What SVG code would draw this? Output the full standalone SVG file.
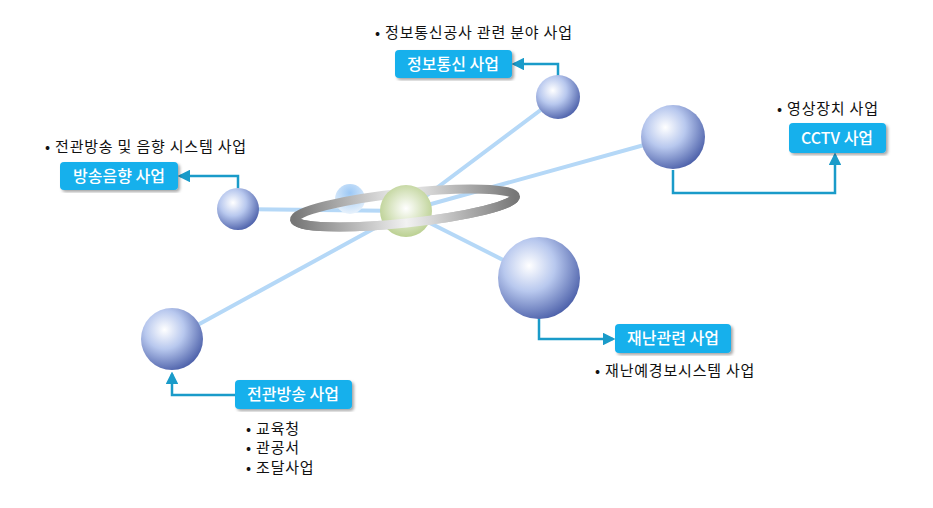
<svg xmlns="http://www.w3.org/2000/svg" width="933" height="508" viewBox="0 0 933 508">
<defs>
<radialGradient id="sph" cx="0.38" cy="0.35" r="0.7"><stop offset="0" stop-color="#ffffff"/><stop offset="0.45" stop-color="#b8c8ee"/><stop offset="1" stop-color="#4a5ea8"/></radialGradient>
<radialGradient id="grn" cx="0.5" cy="0.45" r="0.6"><stop offset="0" stop-color="#ffffff"/><stop offset="1" stop-color="#b5cc88"/></radialGradient>
<radialGradient id="sb" cx="0.5" cy="0.3" r="0.7"><stop offset="0" stop-color="#9cc8f5"/><stop offset="1" stop-color="#e8f2fc"/></radialGradient>
<linearGradient id="ring" x1="0" x2="1"><stop offset="0" stop-color="#777"/><stop offset="0.5" stop-color="#f2f2f2"/><stop offset="1" stop-color="#777"/></linearGradient>
<marker id="ar" viewBox="0 0 10 10" refX="8" refY="5" markerWidth="5" markerHeight="5" orient="auto"><path d="M0,0L10,5L0,10z" fill="#1a9bc9"/></marker>
<filter id="sh"><feDropShadow dx="2" dy="2" stdDeviation="1.5" flood-opacity="0.35"/></filter>
</defs>
<style>
.box{fill:#14b0ec;filter:url(#sh)}
.bt{font-family:"Noto Sans CJK KR","Liberation Sans",sans-serif;font-size:16px;font-weight:500;fill:#fff;text-anchor:middle}
.t{font-family:"Noto Sans CJK KR","Liberation Sans",sans-serif;font-size:15px;letter-spacing:0.8px;fill:#111}
.ln{stroke:#b5d8f7;stroke-width:4;fill:none}
.cn{stroke:#1a9bc9;stroke-width:2.5;fill:none;marker-end:url(#ar)}
.rg{fill:none;stroke:url(#ring);stroke-width:9}
</style>
<rect width="933" height="508" fill="#fff"/>
<g id="lines">
<path class="ln" d="M406,211L558,97M406,211L673,137M406,211L238,209M406,211L539,278M406,211L172,339"/>
</g>
<g id="connectors">
<path class="cn" d="M558,76V64H514"/>
<path class="cn" d="M238,188V176H180"/>
<path class="cn" d="M673,170V193H835V155"/>
<path class="cn" d="M539,318V339H613"/>
<path class="cn" d="M235,395H172V374"/>
</g>
<g id="center">
<circle cx="350" cy="199" r="15" fill="url(#sb)"/>
<g transform="rotate(-6 405 208)">
<ellipse class="rg" cx="405" cy="208" rx="111" ry="15"/>
</g>
<circle cx="406" cy="211" r="26" fill="url(#grn)"/>
<g transform="rotate(-6 405 208)">
<path class="rg" d="M294,208 A111,15 0 0 0 516,208"/>
</g>
</g>
<g id="s1"><circle cx="558" cy="97" r="22" fill="url(#sph)"/></g>
<g id="s2"><circle cx="673" cy="137" r="32" fill="url(#sph)"/></g>
<g id="s3"><circle cx="238" cy="209" r="21" fill="url(#sph)"/></g>
<g id="s4"><circle cx="539" cy="278" r="41" fill="url(#sph)"/></g>
<g id="s5"><circle cx="172" cy="339" r="31" fill="url(#sph)"/></g>
<g id="n1"><rect class="box" x="395" y="50" width="117" height="28" rx="4"/><text class="bt" x="453" y="70">정보통신 사업</text>
<text class="t" x="375" y="38">•  정보통신공사 관련 분야 사업</text></g>
<g id="n2"><rect class="box" x="60" y="162" width="118" height="28" rx="4"/><text class="bt" x="119" y="182">방송음향 사업</text>
<text class="t" x="45" y="152">•  전관방송 및 음향 시스템 사업</text></g>
<g id="n3"><rect class="box" x="789" y="123" width="97" height="30" rx="4"/><text class="bt" x="837" y="144">CCTV 사업</text>
<text class="t" x="777" y="114">•  영상장치 사업</text></g>
<g id="n4"><rect class="box" x="615" y="324" width="116" height="29" rx="4"/><text class="bt" x="673" y="344">재난관련 사업</text>
<text class="t" x="595" y="376">•  재난예경보시스템 사업</text></g>
<g id="n5"><rect class="box" x="235" y="380" width="117" height="29" rx="4"/><text class="bt" x="293" y="400">전관방송 사업</text>
<text class="t" x="246" y="434">•  교육청</text><text class="t" x="246" y="453">•  관공서</text><text class="t" x="246" y="473">•  조달사업</text></g>
</svg>
